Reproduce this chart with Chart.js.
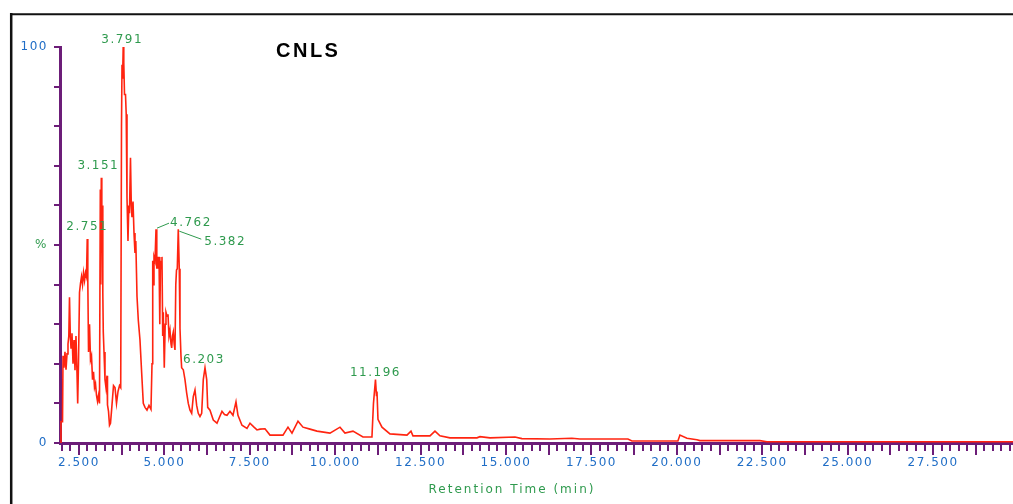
<!DOCTYPE html>
<html>
<head>
<meta charset="utf-8">
<script src="https://cdn.jsdelivr.net/npm/chart.js@4"></script>
<style>
  html, body { margin: 0; padding: 0; background: #fff; }
</style>
</head>
<body>
<canvas id="chart" width="1013" height="504"></canvas>
<script>
// chromatogram trace: [retention time (min), intensity (%)]
var chromatogram = [
  [1.96, 0], [1.975, 5.4], [2.02, 5.4], [2.034, 22], [2.063, 19], [2.092, 23], [2.122, 18.5],
  [2.151, 22.5], [2.18, 25], [2.204, 27], [2.224, 36.8], [2.248, 27], [2.268, 24], [2.297, 27.7],
  [2.327, 20], [2.356, 26], [2.385, 18.4], [2.414, 27], [2.444, 17.6], [2.464, 10], [2.487, 20],
  [2.517, 38], [2.546, 40.3], [2.576, 42], [2.605, 40], [2.634, 43], [2.664, 41], [2.693, 43],
  [2.722, 42], [2.743, 51.5], [2.76, 41], [2.781, 23], [2.81, 30], [2.839, 21], [2.868, 22],
  [2.898, 16], [2.927, 18], [2.956, 14], [2.985, 15], [3.015, 12], [3.044, 10.5], [3.073, 12],
  [3.102, 10], [3.126, 64], [3.14, 40], [3.155, 67], [3.17, 48], [3.184, 60], [3.199, 38],
  [3.213, 28], [3.234, 23], [3.263, 16], [3.292, 14], [3.322, 17], [3.336, 9.6], [3.366, 8],
  [3.395, 4.5], [3.424, 5], [3.453, 8], [3.512, 14.5], [3.556, 14], [3.6, 10], [3.644, 13],
  [3.688, 14.5], [3.723, 14], [3.746, 80], [3.761, 95.5], [3.778, 92], [3.796, 100], [3.813, 96],
  [3.834, 88], [3.863, 88], [3.884, 83], [3.907, 62], [3.936, 51], [3.96, 60], [3.98, 58],
  [4.009, 72], [4.033, 60], [4.053, 57], [4.083, 61], [4.112, 53], [4.141, 48], [4.165, 51],
  [4.185, 43], [4.2, 37], [4.238, 31], [4.287, 26], [4.337, 17.6], [4.384, 10], [4.434, 9],
  [4.492, 8.3], [4.551, 9.5], [4.609, 8.5], [4.639, 20], [4.66, 46], [4.677, 40], [4.697, 47],
  [4.727, 46], [4.756, 54], [4.779, 44], [4.8, 47], [4.823, 44], [4.844, 47], [4.867, 30],
  [4.888, 46], [4.911, 44], [4.931, 47], [4.952, 27], [4.969, 33], [4.998, 19], [5.025, 30],
  [5.048, 33], [5.078, 32], [5.107, 32.5], [5.136, 27], [5.165, 28.5], [5.195, 25], [5.215, 24],
  [5.239, 27], [5.262, 28], [5.288, 25], [5.312, 23.5], [5.335, 40], [5.356, 43.7], [5.379, 44],
  [5.408, 54], [5.437, 44], [5.458, 29], [5.487, 22], [5.507, 19], [5.555, 18.5], [5.604, 16],
  [5.654, 12.6], [5.701, 10], [5.751, 8.3], [5.8, 7.5], [5.847, 11.7], [5.897, 13.4], [5.946, 9.5],
  [5.993, 7.5], [6.043, 6.7], [6.093, 7.5], [6.14, 16], [6.19, 19], [6.24, 16], [6.269, 9],
  [6.336, 8.3], [6.433, 5.8], [6.541, 5], [6.614, 6.5], [6.687, 8], [6.76, 7.2], [6.834, 7],
  [6.921, 8], [7.009, 7], [7.097, 10.4], [7.155, 7], [7.272, 4.5], [7.419, 3.7], [7.507, 5],
  [7.624, 4], [7.712, 3.3], [7.8, 3.5], [7.946, 3.6], [8.092, 2], [8.473, 2], [8.619, 4],
  [8.736, 2.5], [8.912, 5.5], [9.058, 4], [9.263, 3.5], [9.468, 3], [9.848, 2.5], [10.141, 4],
  [10.287, 2.5], [10.521, 3], [10.814, 1.5], [11.077, 1.5], [11.121, 10], [11.18, 16], [11.209, 12],
  [11.224, 13], [11.253, 6], [11.37, 4], [11.604, 2.3], [12.102, 2], [12.219, 3], [12.277, 1.8],
  [12.775, 1.8], [12.921, 3], [13.067, 1.8], [13.36, 1.3], [14.15, 1.3], [14.238, 1.6], [14.531, 1.3],
  [15.262, 1.5], [15.467, 1.1], [16.286, 1.0], [16.93, 1.2], [17.164, 1.0], [18.569, 1.0], [18.686, 0.5],
  [20.032, 0.5], [20.091, 2.0], [20.296, 1.2], [20.588, 0.8], [20.676, 0.6], [22.432, 0.6], [22.637, 0.3],
  [29.84, 0.3]
];

var peakLabels = ['2.751', '3.151', '3.791', '4.762', '5.382', '6.203', '11.196'];
var peakTimes = [2.743, 3.155, 3.796, 4.756, 5.408, 6.19, 11.18];
var peakValues = [51.5, 67, 100, 54, 54, 19, 16];

var xTickLabels = [2.5, 5, 7.5, 10, 12.5, 15, 17.5, 20, 22.5, 25, 27.5];
var yTickValues = [0, 10, 20, 30, 40, 50, 60, 70, 80, 90, 100];
var yTickText = { 0: '0', 50: '%', 100: '100' };

var RED = '#ff2410';
var BLUE = '#1f6dc6';
var GREEN = '#2f9a4e';
var PURPLE = '#6c1d78';

// label placement relative to the peak pixel
var labelStyle = [
  { dx: 0, dy: -9, align: 'center' },
  { dx: -3, dy: -9, align: 'center' },
  { dx: -1, dy: -4, align: 'center' },
  { dx: 14, dy: -3, align: 'left', leader: [1, -1, 13, -6] },
  { dx: 26, dy: 16, align: 'left', leader: [1, 2, 23, 10] },
  { dx: -22, dy: -5, align: 'left' },
  { dx: 0, dy: -4, align: 'center' }
];

var decor = {
  id: 'decor',
  beforeDraw: function(chart) {
    var ctx = chart.ctx;
    ctx.save();
    ctx.strokeStyle = '#111';
    ctx.lineWidth = 2.5;
    ctx.beginPath();
    ctx.moveTo(11.2, 13);
    ctx.lineTo(11.2, 504);
    ctx.stroke();
    ctx.lineWidth = 2;
    ctx.beginPath();
    ctx.moveTo(10, 14.2);
    ctx.lineTo(1013, 14.2);
    ctx.stroke();
    ctx.restore();
    ctx.letterSpacing = '1.5px';
  },
  afterDraw: function(chart) {
    var ctx = chart.ctx;
    var xs = chart.scales.x, ys = chart.scales.y;
    var base = ys.getPixelForValue(0);
    ctx.save();
    // x tick marks every 0.25 min, longer every 1.25
    ctx.strokeStyle = PURPLE;
    ctx.lineWidth = 2;
    for (var i = 0; 2 + i * 0.25 <= xs.max; i++) {
      var v = 2 + i * 0.25;
      var major = Math.abs(v / 1.25 - Math.round(v / 1.25)) < 1e-6;
      var px = Math.round(xs.getPixelForValue(v));
      ctx.beginPath();
      ctx.moveTo(px, base);
      ctx.lineTo(px, base + (major ? 12 : 8));
      ctx.stroke();
    }
    // peak labels
    ctx.font = '12px "DejaVu Sans"';
    ctx.fillStyle = GREEN;
    ctx.strokeStyle = GREEN;
    ctx.lineWidth = 1;
    ctx.textBaseline = 'alphabetic';
    peakLabels.forEach(function(txt, k) {
      var px = xs.getPixelForValue(peakTimes[k]);
      var py = ys.getPixelForValue(peakValues[k]);
      var st = labelStyle[k];
      if (st.leader) {
        ctx.beginPath();
        ctx.moveTo(px + st.leader[0], py + st.leader[1]);
        ctx.lineTo(px + st.leader[2], py + st.leader[3]);
        ctx.stroke();
      }
      ctx.textAlign = st.align;
      ctx.fillText(txt, px + st.dx, py + st.dy);
    });
    // axis title
    ctx.textAlign = 'center';
    ctx.letterSpacing = '2px';
    ctx.fillText('Retention Time (min)', 512, 493);
    // chart title
    ctx.font = 'bold 20px "Liberation Sans"';
    ctx.fillStyle = '#000';
    ctx.textAlign = 'left';
    ctx.letterSpacing = '2.5px';
    ctx.fillText('CNLS', 276, 57);
    ctx.restore();
  }
};

var myChart = new Chart(document.getElementById('chart'), {
  type: 'line',
  data: {
    datasets: [{
      data: chromatogram.map(function(p) { return { x: p[0], y: p[1] }; }),
      borderColor: RED,
      borderWidth: 1.6,
      pointRadius: 0,
      tension: 0,
      fill: false
    }]
  },
  options: {
    responsive: false,
    animation: false,
    events: [],
    layout: { padding: { left: 10, top: 47, right: 0, bottom: 0 } },
    plugins: { legend: { display: false }, title: { display: false }, tooltip: { enabled: false } },
    scales: {
      x: {
        type: 'linear',
        min: 1.946,
        max: 29.84,
        afterBuildTicks: function(scale) { scale.ticks = xTickLabels.map(function(v) { return { value: v }; }); },
        afterFit: function(scale) { scale.height = 61; },
        ticks: {
          color: BLUE,
          font: { family: 'DejaVu Sans', size: 12 },
          padding: 13,
          maxRotation: 0,
          autoSkip: false,
          callback: function(v) { return v.toFixed(3); }
        },
        grid: { display: false, drawTicks: false },
        border: { display: true, color: PURPLE, width: 3 }
      },
      y: {
        min: 0,
        max: 100,
        afterBuildTicks: function(scale) { scale.ticks = yTickValues.map(function(v) { return { value: v }; }); },
        afterFit: function(scale) { scale.width = 50; },
        ticks: {
          color: function(c) { return c.tick && c.tick.value === 50 ? GREEN : BLUE; },
          font: { family: 'DejaVu Sans', size: 12 },
          padding: 6,
          autoSkip: false,
          callback: function(v) { return yTickText[v] !== undefined ? yTickText[v] : ''; }
        },
        grid: { drawOnChartArea: false, drawTicks: true, tickLength: 6, color: PURPLE, lineWidth: 2 },
        border: { color: PURPLE, width: 3 }
      }
    }
  },
  plugins: [decor]
});
</script>
</body>
</html>
